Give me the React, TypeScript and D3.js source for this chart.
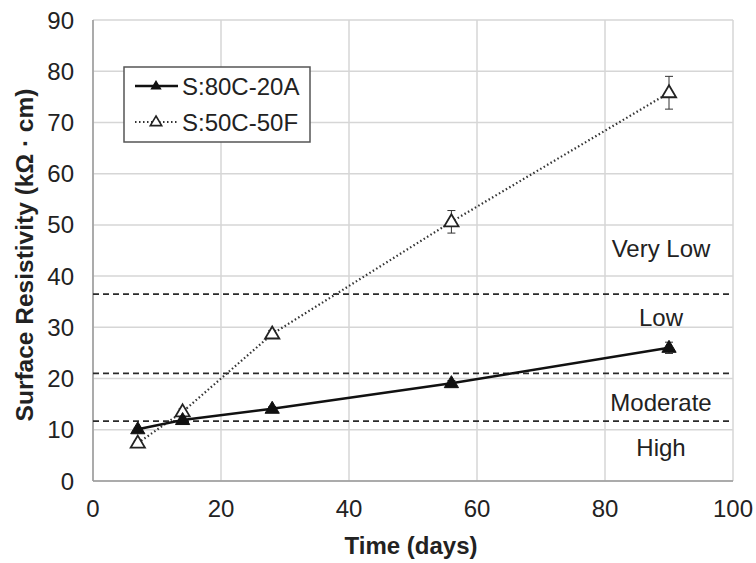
import React from "react";
import * as d3 from "d3";

const days = [7, 14, 28, 56, 90];
const seriesA = [10.1, 11.9, 14.1, 19.1, 26.0];
const errA = [0.3, 0.4, 0.4, 0.5, 1.1];
const seriesF = [7.4, 13.5, 28.7, 50.6, 75.8];
const errF = [0.4, 0.6, 0.7, 2.2, 3.2];
const xTicks = [0, 20, 40, 60, 80, 100];
const yTicks = [0, 10, 20, 30, 40, 50, 60, 70, 80, 90];
const thresholds = [11.7, 21.0, 36.5];
const zoneLabels = ["High", "Moderate", "Low", "Very Low"];
const zoneLabelValues = [6.5, 15.3, 31.9, 45.4];
const legendNames = ["S:80C-20A", "S:50C-50F"];

const W = 756, H = 563;
const L = 93, R = 733, T = 20, B = 481;

export default function App() {
  const x = d3.scaleLinear().domain([0, 100]).range([L, R]);
  const y = d3.scaleLinear().domain([0, 90]).range([B, T]);
  const line = d3.line<number>().x((_, i) => x(days[i])).y((v) => y(v));
  const tri = (cx: number, cy: number, s = 7.5) =>
    `M${cx},${cy - s}L${cx + s * 0.95},${cy + s * 0.6}L${cx - s * 0.95},${cy + s * 0.6}Z`;
  const font = "Liberation Sans, Arial, sans-serif";
  const errBar = (vals: number[], errs: number[], key: string) =>
    vals.map((v, i) => {
      const cx = x(days[i]);
      const y1 = y(v + errs[i]);
      const y2 = y(v - errs[i]);
      return (
        <g key={key + i} stroke="#333" strokeWidth={1}>
          <line x1={cx} x2={cx} y1={y1} y2={y2} />
          <line x1={cx - 4} x2={cx + 4} y1={y1} y2={y1} />
          <line x1={cx - 4} x2={cx + 4} y1={y2} y2={y2} />
        </g>
      );
    });
  return (
    <svg width={W} height={H} style={{ position: "absolute", left: 0, top: 0 }} fontFamily={font}>
      <rect width={W} height={H} fill="#fff" />
      {xTicks.map((t) => (
        <line key={"gx" + t} x1={x(t)} x2={x(t)} y1={T} y2={B} stroke="#d6d6d6" strokeWidth={1.5} />
      ))}
      {yTicks.map((t) => (
        <line key={"gy" + t} x1={L} x2={R} y1={y(t)} y2={y(t)} stroke="#d6d6d6" strokeWidth={1.5} />
      ))}
      <line x1={L} x2={L} y1={T} y2={B} stroke="#9a9a9a" strokeWidth={1.5} />
      <line x1={L} x2={R} y1={B} y2={B} stroke="#9a9a9a" strokeWidth={1.5} />
      {thresholds.map((t) => (
        <line key={"th" + t} x1={L} x2={R} y1={y(t)} y2={y(t)} stroke="#2a2a2a" strokeWidth={1.8} strokeDasharray="6,4" />
      ))}
      {zoneLabels.map((s, i) => (
        <text key={s} x={661} y={y(zoneLabelValues[i])} textAnchor="middle" dominantBaseline="central" fontSize={24} fill="#222">
          {s}
        </text>
      ))}
      {yTicks.map((t) => (
        <text key={"yl" + t} x={L - 19} y={y(t)} textAnchor="end" dominantBaseline="central" fontSize={24} fill="#222">
          {t}
        </text>
      ))}
      {xTicks.map((t) => (
        <text key={"xl" + t} x={x(t)} y={508} textAnchor="middle" dominantBaseline="central" fontSize={24} fill="#222">
          {t}
        </text>
      ))}
      <text x={411} y={545} textAnchor="middle" dominantBaseline="central" fontSize={24} fontWeight="bold" fill="#222">
        Time (days)
      </text>
      <text transform={`translate(24,255) rotate(-90)`} textAnchor="middle" dominantBaseline="central" fontSize={24.5} fontWeight="bold" fill="#222">
        Surface Resistivity (kΩ · cm)
      </text>
      <path d={line(seriesF) || ""} fill="none" stroke="#333" strokeWidth={2.2} strokeDasharray="1.5,2.5" />
      <path d={line(seriesA) || ""} fill="none" stroke="#111" strokeWidth={2.5} />
      {errBar(seriesF, errF, "ef")}
      {errBar(seriesA, errA, "ea")}
      {seriesF.map((v, i) => (
        <path key={"pf" + i} d={tri(x(days[i]), y(v))} fill="#fff" stroke="#222" strokeWidth={1.8} />
      ))}
      {seriesA.map((v, i) => (
        <path key={"pa" + i} d={tri(x(days[i]), y(v))} fill="#111" stroke="#111" strokeWidth={1} />
      ))}
      <rect x={124} y={67} width={186} height={75} fill="#fff" stroke="#555" strokeWidth={1.5} />
      <line x1={135} x2={178} y1={86} y2={86} stroke="#111" strokeWidth={2.5} />
      <path d={tri(156, 86, 6)} fill="#111" />
      <line x1={135} x2={178} y1={122} y2={122} stroke="#333" strokeWidth={2} strokeDasharray="1.5,2.5" />
      <path d={tri(156, 122, 6)} fill="#fff" stroke="#222" strokeWidth={1.6} />
      {legendNames.map((n, i) => (
        <text key={n} x={182} y={86 + i * 36} dominantBaseline="central" fontSize={24} fill="#222">
          {n}
        </text>
      ))}
    </svg>
  );
}
